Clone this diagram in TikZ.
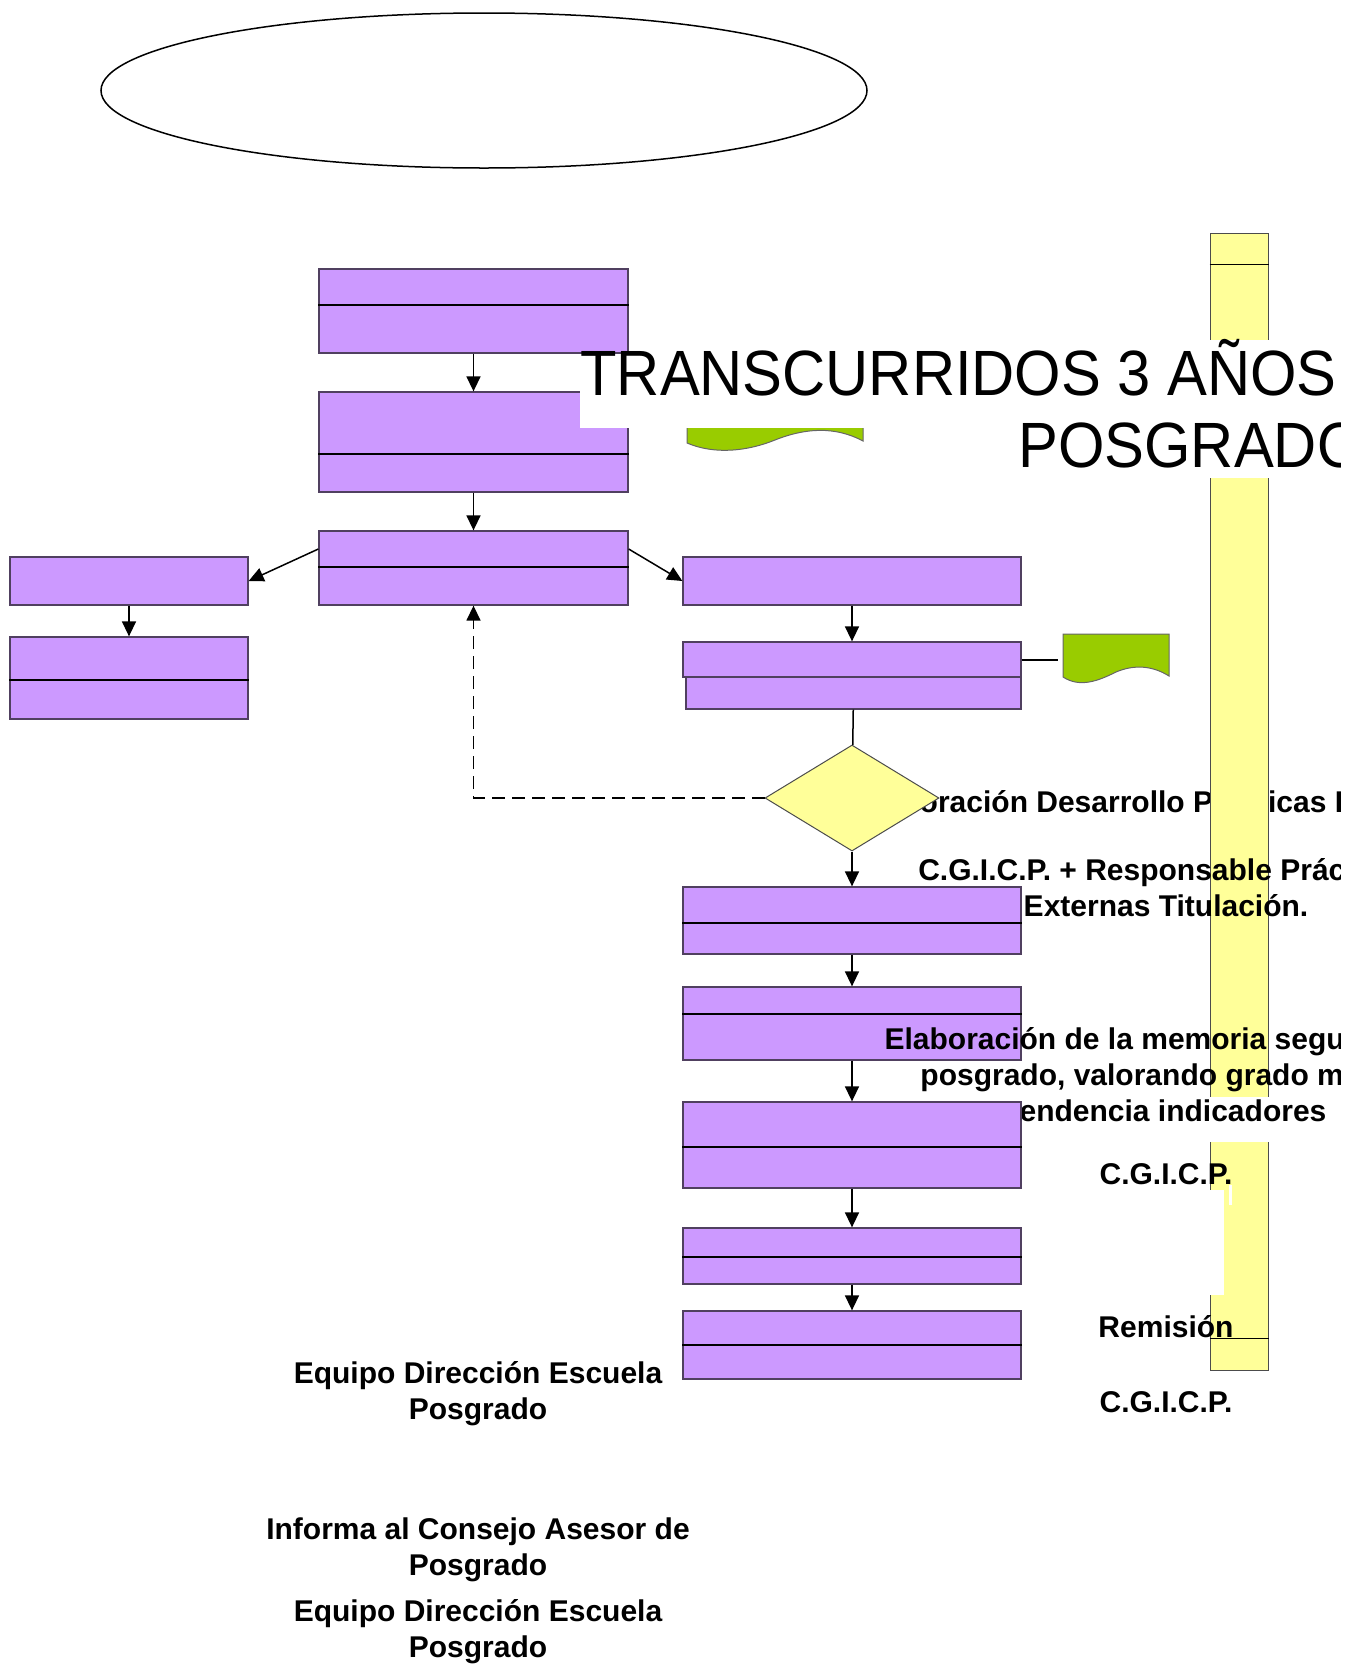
\documentclass[tikz,border=0pt]{standalone}
\usepackage{fontspec}
\setmainfont{Liberation Sans}
\newfontfamily\titlefont[FakeStretch=0.933]{Liberation Sans}
\usetikzlibrary{arrows.meta,shapes.geometric,fit,calc}

\definecolor{lila}{RGB}{204,153,255}
\definecolor{amarillo}{RGB}{255,255,153}
\definecolor{verde}{RGB}{153,204,0}
\definecolor{borde}{RGB}{80,64,96}

\tikzset{
  caja/.style={draw=borde, fill=lila, line width=0.65pt, inner sep=0pt},
  flecha/.style={-{Triangle[length=7.5pt,width=7pt]}, line width=0.75pt},
  linea/.style={line width=0.75pt},
  texto/.style={font=\bfseries\fontsize{15}{18}\selectfont, align=center, inner sep=0pt},
  hoja/.style={fill=verde, draw=black!60, line width=0.5pt},
}

\begin{document}
\begin{tikzpicture}[x=0.5pt, y=-0.5pt]
	\clip (0,0) rectangle (1350,1666);
	\node[draw, ellipse, line width=0.75pt, inner sep=0pt, minimum width=383pt, minimum height=77.5pt] (inicio) at (484,90.5) {};

	% texto bajo la franja
	\begin{scope}
		\clip (0,0) rectangle (1340,1666);
		\node[texto] (t-practicas) at (1159,802) {Elaboración Desarrollo Prácticas Externas};
	\end{scope}

	% franja amarilla
	\node[fill=amarillo, draw=black!70, line width=0.5pt, inner sep=0pt, fit={(1210,233) (1268,1370)}] (franja) {};
	\draw[line width=0.5pt] (franja.west |- 0,264) -- (franja.east |- 0,264);
	\draw[line width=0.5pt] (franja.west |- 0,1338) -- (franja.east |- 0,1338);

	% documentos
	\draw[hoja] (687,380) -- (863,380) -- (863,441) .. controls (835,426) and (805,428) .. (775,440)
		.. controls (748,451) and (715,455) .. (687,443) -- cycle;
	\draw[hoja] (1063,634) -- (1169,634) -- (1169,676) .. controls (1153,666) and (1135,664) .. (1116,672)
		.. controls (1098,681) and (1080,688) .. (1063,677) -- cycle;
	\coordinate (d2) at (1058,660);

	% cajas
	\node[caja, fit={(319,392) (628,492)}] (b) {};
	\node[caja, fit={(319,531) (628,605)}] (c) {};
	\node[caja, fit={(10,557) (248,605)}] (l1) {};
	\node[caja, fit={(10,637) (248,719)}] (l2) {};
	\node[caja, fit={(683,557) (1021,605)}] (r1) {};
	\node[caja, fit={(683,642) (1021,677)}] (r2) {};
	\node[caja, fit={(686,677) (1021,709)}] (r2b) {};
	\node[caja, fit={(683,887) (1021,954)}] (r3) {};
	\node[caja, fit={(683,987) (1021,1060)}] (r4) {};
	\foreach \n/\d in {b/454, c/567, l2/680, r3/923, r4/1014}
		\draw[line width=0.6pt] (\n.west |- 0,\d) -- (\n.east |- 0,\d);

	\node[diamond, fill=amarillo, draw=black!70, line width=0.5pt, inner sep=0pt, minimum width=87pt, minimum height=53pt] (rombo) at (852,798) {};

	% fondos blancos
	\fill[white] (580,353) rectangle (1350,428);
	\fill[white] (1018,428) rectangle (1350,478);
	\fill[white] (1205,340) rectangle (1272,353);
	\fill[white] (1205,1097) rectangle (1272,1142);
	\fill[white] (1205,1190) rectangle (1224,1295);
	\fill[white] (1229,1185) rectangle (1232,1205);

	\node[caja, fit={(319,269) (628,353)}] (a) {};
	\draw[line width=0.6pt] (a.west |- 0,305) -- (a.east |- 0,305);

	% textos
	\begin{scope}
		\clip (0,0) rectangle (1340,1666);
		\node[anchor=base west, inner sep=0pt, font=\titlefont\fontsize{32}{36}\selectfont] (titulo) at (580,395) {TRANSCURRIDOS 3 AÑOS};
		\node[anchor=base west, inner sep=0pt, font=\titlefont\fontsize{32}{36}\selectfont] (titulo-b) at (1018,467) {POSGRADO};
		\node[texto] (t-cgicp) at (1166,888) {C.G.I.C.P. + Responsable Prácticas\\Externas Titulación.};
		\node[texto] (t-memoria) at (1168,1075) {Elaboración de la memoria seguimiento\\posgrado, valorando grado mejora\\tendencia indicadores};
		\node[texto] (t-cgicp-b) at (1166,1174) {C.G.I.C.P.};
		\node[texto] (t-remision) at (1166,1327) {Remisión};
		\node[texto] (t-cgicp-c) at (1166,1402) {C.G.I.C.P.};
	\end{scope}
	\node[texto] (t-equipo) at (478,1394) {Equipo Dirección Escuela\\Posgrado};
	\node[texto] (t-informa) at (478,1550) {Informa al Consejo Asesor de\\Posgrado};
	\node[texto] (t-equipo-b) at (478,1632) {Equipo Dirección Escuela\\Posgrado};

	\node[caja, fit={(683,1102) (1021,1188)}] (r5) {};
	\node[caja, fit={(683,1228) (1021,1284)}] (r6) {};
	\node[caja, fit={(683,1311) (1021,1379)}] (r7) {};
	\foreach \n/\d in {r5/1147, r6/1257, r7/1345}
		\draw[line width=0.6pt] (\n.west |- 0,\d) -- (\n.east |- 0,\d);

	% conectores
	\draw[flecha] (a) -- (b);
	\draw[flecha] (b) -- (c);
	\draw[flecha] (c.west |- 0,549) -- (l1.east);
	\draw[flecha] (c.east |- 0,549) -- (r1.west);
	\draw[flecha] (l1) -- (l2);
	\draw[flecha] (r1) -- (r2);
	\draw[linea] (r2.east |- d2) -- (d2);
	\draw[linea] (r2b) -- (rombo);
	\draw[flecha, dash pattern=on 6.5pt off 3.5pt] (rombo.west) -| (c.south);
	\draw[flecha] (rombo) -- (r3);
	\draw[flecha] (r3) -- (r4);
	\draw[flecha] (r4) -- (r5);
	\draw[flecha] (r5) -- (r6);
	\draw[flecha] (r6) -- (r7);
\end{tikzpicture}
\end{document}
